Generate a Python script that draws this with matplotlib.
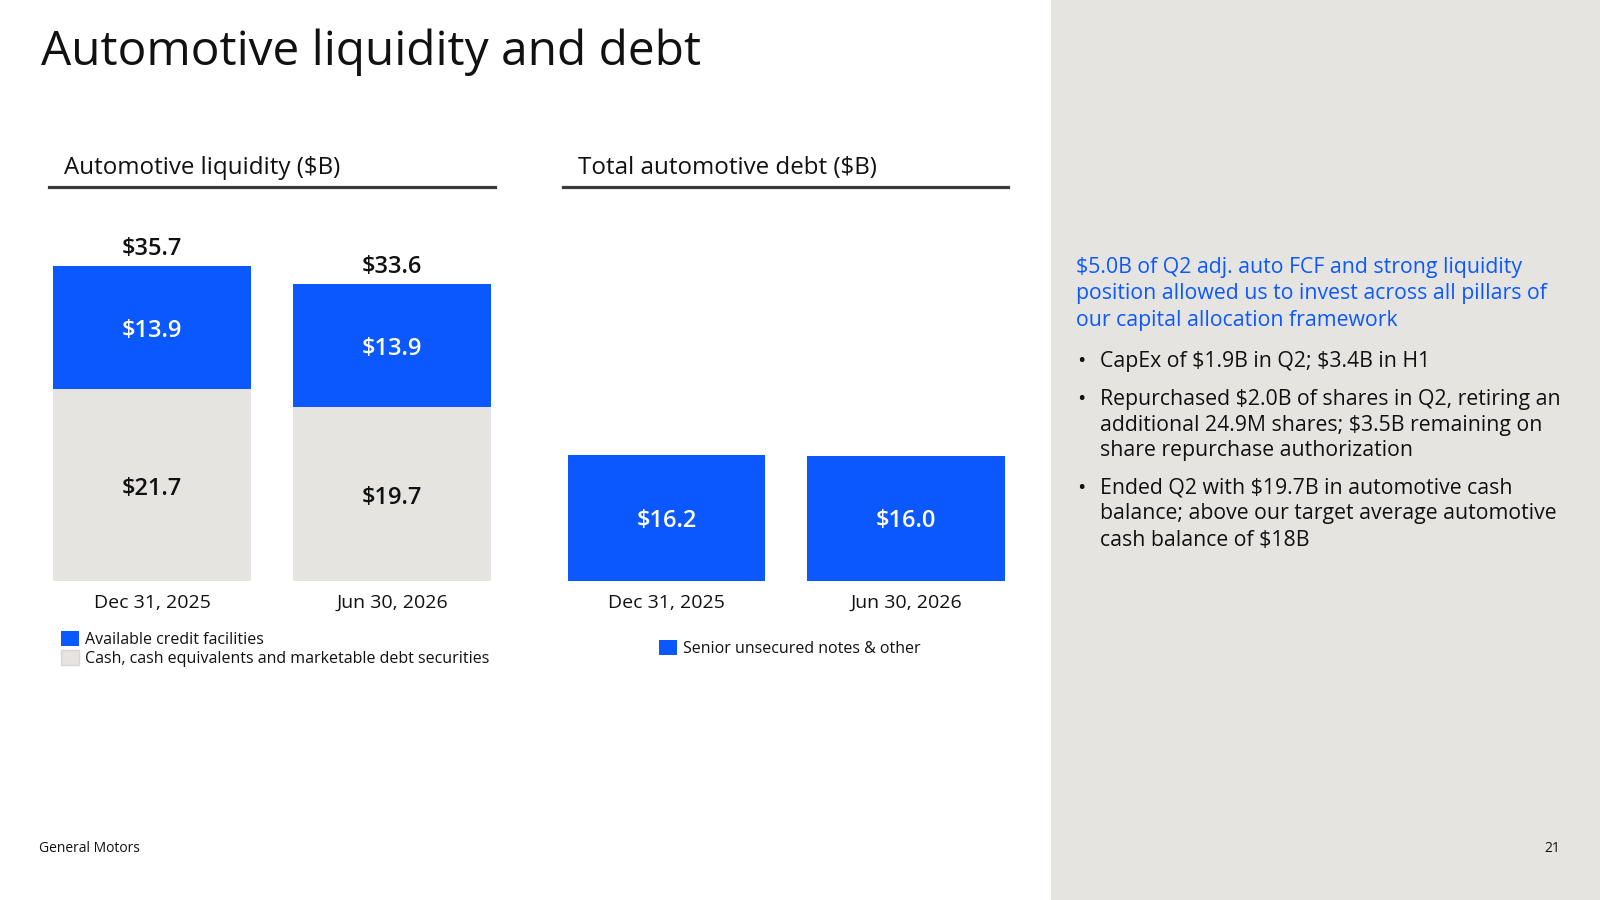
import matplotlib.pyplot as plt
from matplotlib.patches import Rectangle, Patch

plt.rcParams['font.family'] = ['Open Sans', 'DejaVu Sans']

# data
dates = ["Dec 31, 2025", "Jun 30, 2026"]
cash = [21.7, 19.7]
credit = [13.9, 13.9]
liquidity_total = [35.7, 33.6]
debt = [16.2, 16.0]

BLUE = "#0b58ff"
GREY = "#e6e4e1"
DARK = "#111111"

W, H = 1600, 900
fig = plt.figure(figsize=(16, 9), dpi=100)
fig.patch.set_facecolor("white")


def box(x0, y0, x1, y1):
    # pixel box (top-left origin) -> figure fraction rect
    return [x0 / W, 1 - y1 / H, (x1 - x0) / W, (y1 - y0) / H]


def fy(y):
    return 1 - y / H


# grey side panel
fig.patches.append(Rectangle((1051 / W, 0), 1 - 1051 / W, 1, transform=fig.transFigure,
                             facecolor=GREY, edgecolor="none", zorder=0))

fig.text(41 / W, fy(52), "Automotive liquidity and debt", fontsize=34.5,
         va="center", ha="left", color=DARK)

# headers with underline
for x0, x1, title in [(49, 495, "Automotive liquidity ($B)"),
                      (563, 1008, "Total automotive debt ($B)")]:
    fig.text((x0 + 15) / W, fy(168), title, fontsize=17.4, va="center", color=DARK)
    fig.add_artist(plt.Line2D([x0 / W, x1 / W], [fy(187), fy(187)],
                              transform=fig.transFigure, color="#3a3a3a", lw=2.3))

lab = dict(fontsize=17, fontweight="semibold", ha="center", va="center",
           textcoords="offset points")

# left chart: stacked liquidity
axl = fig.add_axes(box(49, 200, 495, 581))
x = [0, 1]
axl.set_xlim(-0.429, 1.429)
axl.set_ylim(0, 381 / 8.84)
axl.bar(x, cash, width=0.825, color=GREY)
axl.bar(x, credit, width=0.825, bottom=cash, color=BLUE)
for i in x:
    axl.annotate(f"${cash[i]:.1f}", (x[i], cash[i] / 2), xytext=(0, -3), color=DARK, **lab)
    axl.annotate(f"${credit[i]:.1f}", (x[i], cash[i] + credit[i] / 2), xytext=(0, -2.5),
                 color="white", **lab)
    axl.annotate(f"${liquidity_total[i]:.1f}", (x[i], cash[i] + credit[i]), xytext=(0, 12.5),
                 color=DARK, **lab)

# right chart: debt
axr = fig.add_axes(box(563, 200, 1008, 581))
axr.set_xlim(-0.432, 1.426)
axr.set_ylim(0, 381 / 7.8)
axr.bar(x, debt, width=0.823, color=BLUE)
for i in x:
    axr.annotate(f"${debt[i]:.1f}", (x[i], debt[i] / 2), xytext=(0, -2),
                 color="white", **lab)

for ax in (axl, axr):
    ax.set_xticks(x, dates, fontsize=14, color=DARK)
    ax.tick_params(axis="x", length=0, pad=9)
    ax.set_yticks([])
    for s in ax.spines.values():
        s.set_visible(False)
    ax.patch.set_alpha(0)

# legends
leg_kw = dict(loc="upper left", frameon=False, fontsize=11.5, handlelength=1.1,
              handleheight=1.1, handletextpad=0.4, labelspacing=0.12, borderpad=0,
              borderaxespad=0, labelcolor=DARK)
fig.legend([Patch(facecolor=BLUE, edgecolor="none"), Patch(facecolor=GREY, edgecolor="#d8d6d2")],
           ["Available credit facilities",
            "Cash, cash equivalents and marketable debt securities"],
           bbox_to_anchor=(61 / W, fy(631)), **leg_kw)
fig.legend([Patch(facecolor=BLUE, edgecolor="none")], ["Senior unsecured notes & other"],
           bbox_to_anchor=(659 / W, fy(640)), **leg_kw)

# right panel commentary
heading = ["$5.0B of Q2 adj. auto FCF and strong liquidity",
           "position allowed us to invest across all pillars of",
           "our capital allocation framework"]
for i, line in enumerate(heading):
    fig.text(1076 / W, fy(267 + 26.5 * i), line.replace("$", r"\$"),
             fontsize=15.3, color=BLUE, va="center", fontweight="medium")

bullets = [["CapEx of $1.9B in Q2; $3.4B in H1"],
           ["Repurchased $2.0B of shares in Q2, retiring an",
            "additional 24.9M shares; $3.5B remaining on",
            "share repurchase authorization"],
           ["Ended Q2 with $19.7B in automotive cash",
            "balance; above our target average automotive",
            "cash balance of $18B"]]
starts = [362, 399, 488]
for y0, lines in zip(starts, bullets):
    fig.text(1077 / W, fy(y0), "•", fontsize=16, color=DARK, va="center")
    for j, line in enumerate(lines):
        fig.text(1100 / W, fy(y0 + 26 * j), line.replace("$", r"\$"),
                 fontsize=15.3, color=DARK, va="center")

# footer
fig.text(39 / W, fy(849), "General Motors", fontsize=10, color=DARK, va="center")
fig.text(1560 / W, fy(849), "21", fontsize=10, color=DARK, va="center", ha="right")

fig.savefig("out.png", dpi=100)
